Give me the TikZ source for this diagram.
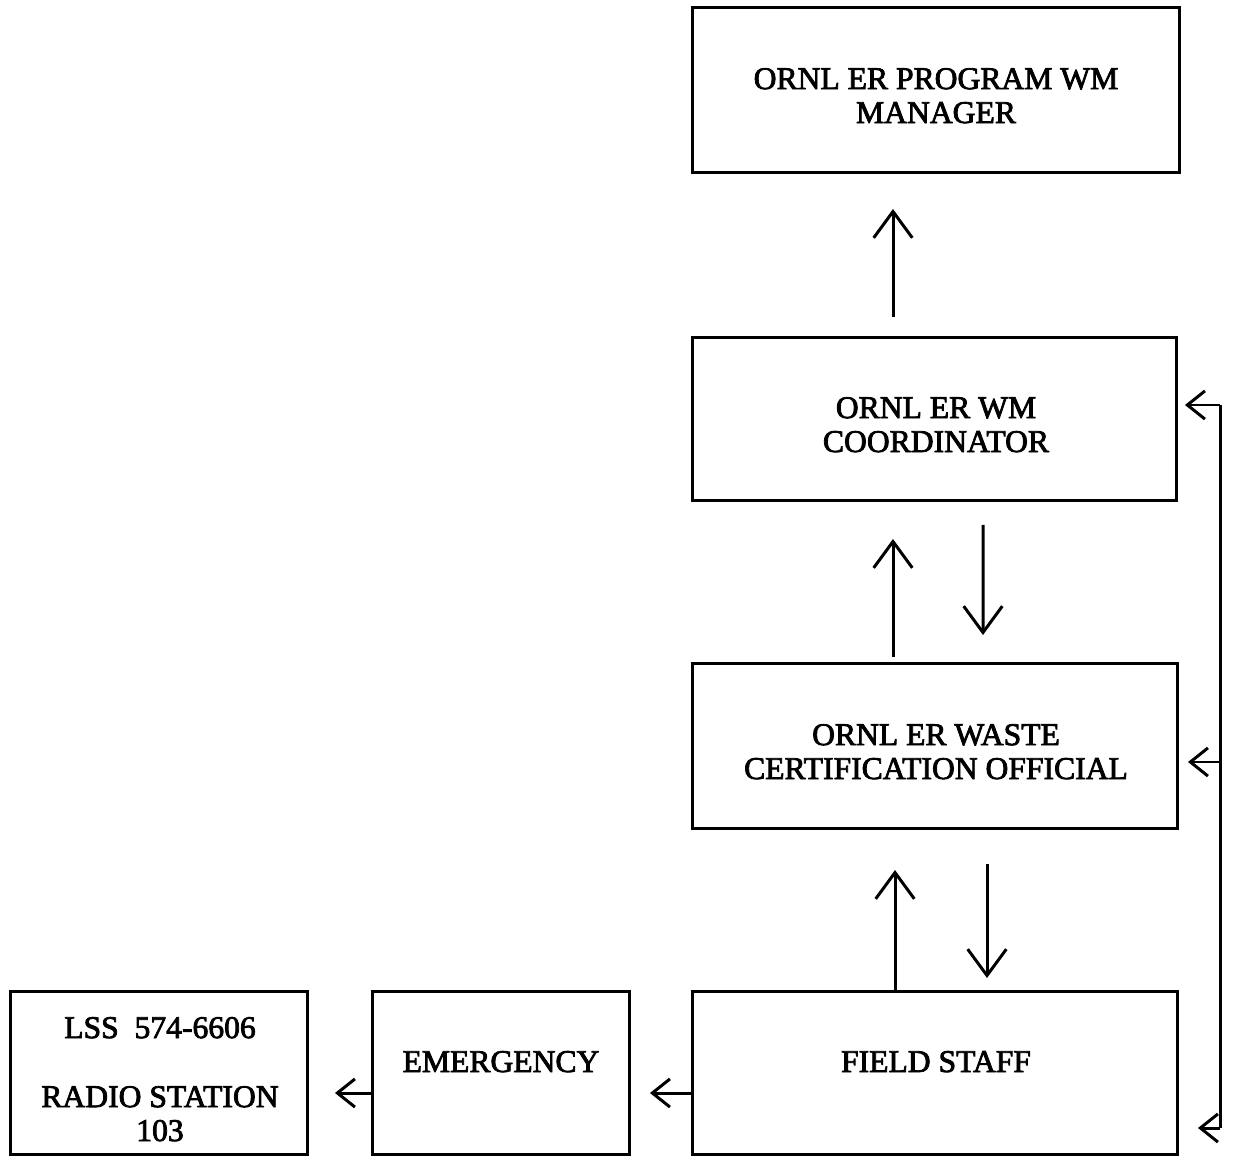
\documentclass[tikz,border=0pt]{standalone}
\usepackage{fontspec}
\setmainfont{Liberation Serif}
\newfontfamily\scanfont{Liberation Serif}[FakeBold=2.5]
\usetikzlibrary{arrows.meta,calc}
\begin{document}
\begin{tikzpicture}[x=0.02cm,y=-0.02cm,
  box/.style={draw,line width=1.7pt,rectangle,inner sep=0pt,outer sep=0pt},
  lbl/.style={anchor=base,align=center,inner sep=0pt,font=\scanfont\fontsize{18}{19.3}\selectfont},
  arrB/.style={line width=1.7pt,-{Straight Barb[length=15pt,width=22pt,line width=1.7pt]}},
  arrS/.style={line width=1.7pt,-{Straight Barb[length=10pt,width=16pt,line width=1.7pt]}},
  conn/.style={line width=1.7pt}]
\useasboundingbox (0,0) rectangle (1235,1156);
% boxes
\node[box,minimum width=9.76cm,minimum height=3.32cm] (mgr) at (936,90) {};
\node[box,minimum width=9.7cm,minimum height=3.28cm] (coord) at (934.5,419) {};
\node[box,minimum width=9.72cm,minimum height=3.32cm] (waste) at (935,746) {};
\node[box,minimum width=9.72cm,minimum height=3.28cm] (field) at (935,1073) {};
\node[box,minimum width=5.16cm,minimum height=3.28cm] (emer) at (501,1073) {};
\node[box,minimum width=5.96cm,minimum height=3.28cm] (lss) at (159,1073) {};
% labels (base = baseline of last line)
\node[lbl] (tmgr) at (936,123) {ORNL ER PROGRAM WM\\MANAGER};
\node[lbl] (tcoord) at (936,452) {ORNL ER WM\\COORDINATOR};
\node[lbl] (twaste) at (936,779) {ORNL ER WASTE\\CERTIFICATION OFFICIAL};
\node[lbl] (tfield) at (936,1072) {FIELD STAFF};
\node[lbl] (temer) at (501,1072) {EMERGENCY};
\node[lbl] (tlss) at (160,1141) {LSS~~574-6606\\[20pt]RADIO STATION\\103};
% vertical arrows
\draw[arrB] ($(coord.north)+(-41.5,-20)$) -- ($(mgr.south)+(-43,36)$);
\draw[arrB] ($(waste.north)+(-42,-6)$) -- ($(coord.south)+(-41.5,38)$);
\draw[arrB] ($(coord.south)+(48.5,24)$) -- ($(waste.north)+(48,-28)$);
\draw[arrB] ($(field.north)+(-40,0)$) -- ($(waste.south)+(-40,41)$);
\draw[arrB] ($(waste.south)+(52,35)$) -- ($(field.north)+(52,-13)$);
% horizontal arrows
\draw[arrS] ($(field.west)+(0,20)$) -- ($(emer.east)+(20,20)$);
\draw[arrS] ($(emer.west)+(0,20)$) -- ($(lss.east)+(27,20)$);
% right feedback line
\coordinate (rt) at (1220,405);
\coordinate (rm) at (1220,762);
\coordinate (rb) at (1220,1128);
\draw[conn] (rt) -- (rb);
\draw[arrS,shorten >=0.16cm] (rt) -- (rt -| coord.east);
\draw[arrS,shorten >=0.2cm] (rm) -- (rm -| waste.east);
\draw[arrS,shorten >=0.4cm] (rb) -- (rb -| field.east);
\end{tikzpicture}
\end{document}
